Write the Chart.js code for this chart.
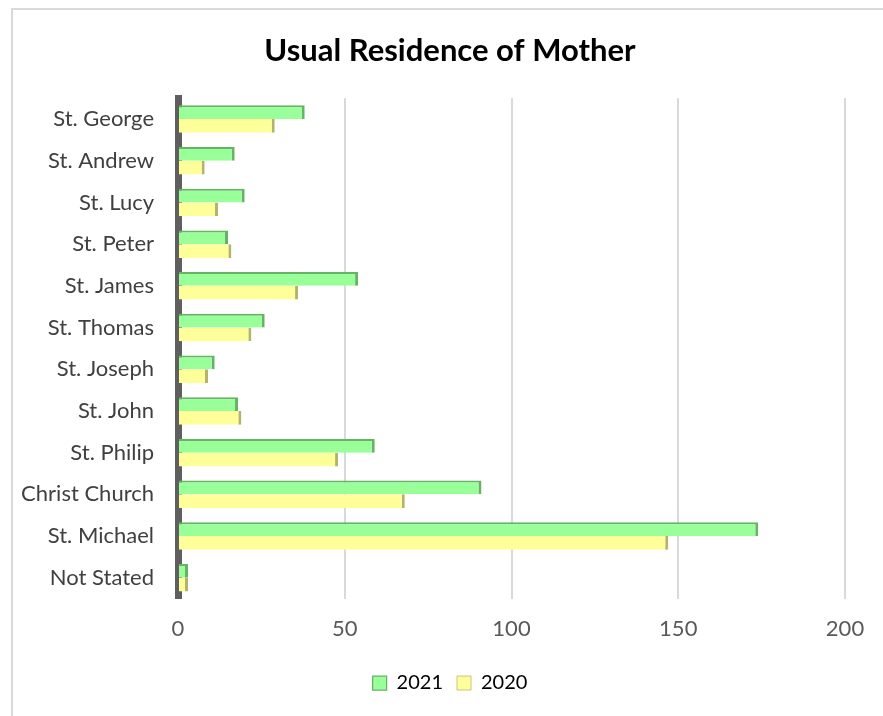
<!DOCTYPE html>
<html>
<head>
<meta charset="utf-8">
<script src="https://cdn.jsdelivr.net/npm/chart.js@4.4.0/dist/chart.umd.min.js"></script>
<style>
  html, body { margin: 0; padding: 0; background: #fff; overflow: hidden; }
  #wrap { position: absolute; left: 11px; top: 8px; width: 880px; height: 708px; border: 2px solid #d9d9d9; border-right: none; border-bottom: none; box-sizing: border-box; }
  canvas { display: block; }
</style>
</head>
<body>
<div id="wrap"><canvas id="chart"></canvas></div>
<script>
// parishes, top to bottom
const parishes = ['St. George', 'St. Andrew', 'St. Lucy', 'St. Peter', 'St. James', 'St. Thomas',
  'St. Joseph', 'St. John', 'St. Philip', 'Christ Church', 'St. Michael', 'Not Stated'];
const births2021 = [38, 17, 20, 15, 54, 26, 11, 18, 59, 91, 174, 3];
const births2020 = [29, 8, 12, 16, 36, 22, 9, 19, 48, 68, 147, 3];
const xTicks = [0, 50, 100, 150, 200];

const ctx = document.getElementById('chart').getContext('2d');
Chart.defaults.font.family = 'Lato, "Open Sans", sans-serif';

const chart = new Chart(ctx, {
  type: 'bar',
  data: {
    labels: parishes,
    datasets: [{
      label: '2021',
      data: births2021,
      backgroundColor: '#99ff99',
      borderColor: '#66b366',
      borderWidth: { top: 2, right: 3, bottom: 0, left: 0 },
      borderSkipped: false
    }, {
      label: '2020',
      data: births2020,
      backgroundColor: '#ffff99',
      borderColor: '#b3b36b',
      borderWidth: { top: 0, right: 3, bottom: 0, left: 0 },
      borderSkipped: false
    }]
  },
  options: {
    indexAxis: 'y',
    responsive: true,
    maintainAspectRatio: false,
    animation: false,
    layout: { padding: { top: 0, right: 4, bottom: 13, left: 0 } },
    datasets: { bar: { categoryPercentage: 0.66, barPercentage: 1.0 } },
    scales: {
      x: {
        min: 0, max: 200,
        afterBuildTicks: axis => { axis.ticks = xTicks.map(v => ({ value: v })); },
        grid: {
          color: c => c.tick.value === 0 ? 'rgba(0,0,0,0)' : '#d9d9d9',
          lineWidth: 2,
          drawTicks: false
        },
        border: { display: false },
        ticks: { color: '#595959', font: { size: 22 }, padding: 17 }
      },
      y: {
        afterFit: axis => { axis.width = 165; },
        grid: { display: false },
        border: { display: true, color: '#5f5f5f', width: 7 },
        ticks: { color: '#404040', font: { size: 22 }, padding: 16 }
      },
      // empty axis that only keeps room on the right of the plot
      yRight: {
        type: 'category',
        position: 'right',
        afterFit: axis => { axis.width = 42; },
        grid: { display: false },
        border: { display: false },
        ticks: { display: false }
      }
    },
    plugins: {
      title: {
        display: true,
        text: 'Usual Residence of Mother',
        color: '#000',
        font: { size: 31, weight: 'bold' },
        padding: { top: 22, bottom: 29 }
      },
      legend: {
        position: 'bottom',
        labels: { color: '#000', font: { size: 20 }, boxWidth: 14, boxHeight: 14, padding: 14 }
      },
      tooltip: { enabled: false }
    }
  }
});
</script>
</body>
</html>
